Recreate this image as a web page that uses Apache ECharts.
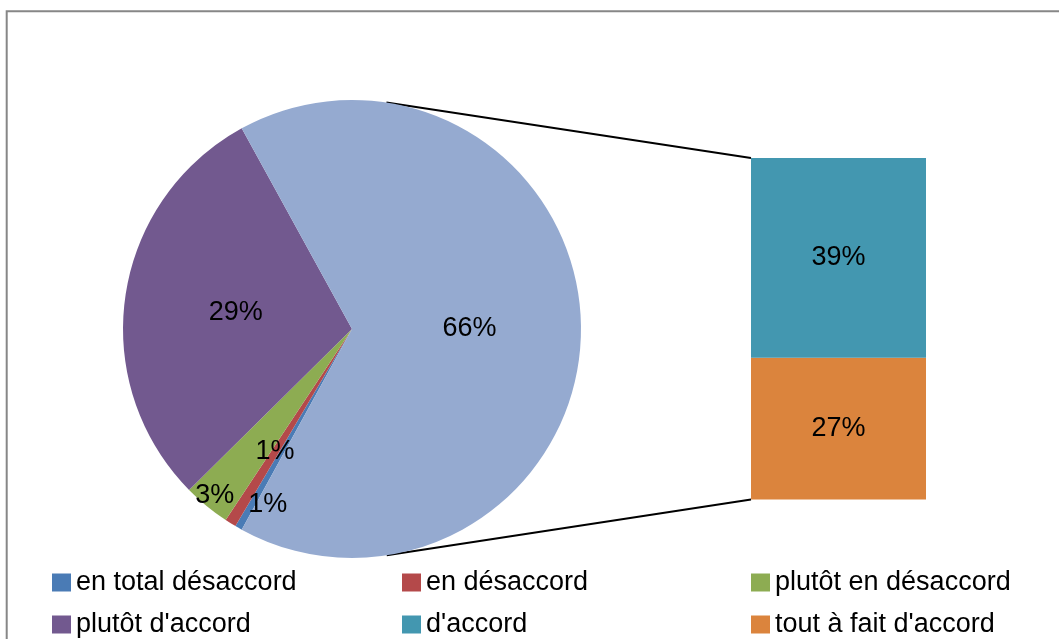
<!DOCTYPE html>
<html>
<head>
<meta charset="utf-8">
<script src="https://cdn.jsdelivr.net/npm/echarts@6/dist/echarts.min.js"></script>
<style>
  html, body { margin: 0; padding: 0; background: #ffffff; }
  #chart { width: 1059px; height: 639px; }
</style>
</head>
<body>
<div id="chart"></div>
<script>
// Answer categories and their shares (percent of respondents)
const categories = [
  'en total désaccord',
  'en désaccord',
  'plutôt en désaccord',
  "plutôt d'accord",
  "d'accord",
  "tout à fait d'accord"
];
const shares = [0.5, 0.8, 3.3, 29.4, 38.6, 27.4];
// The first four answers sit in the pie; the last two are grouped into one slice
// and broken down in the stacked bar on the right.
const pieCount = 4;

const palette = ['#4A7BB5', '#B4494A', '#8DAC52', '#72598F', '#4397B0', '#DB843D'];
const groupColor = '#95AAD0';
const FONT = "'Liberation Sans', Arial, sans-serif";
const LABEL_SIZE = 27;

// Layout of the two plots
const pieCenter = [352, 329];
const pieR = 229;
const barBox = { left: 751, top: 158, width: 175, height: 341.5 };

const groupValue = shares.slice(pieCount).reduce((a, b) => a + b, 0);
const total = shares.reduce((a, b) => a + b, 0);
// grouped slice is centred on the right-hand side (3 o'clock)
const startAngle = 360 - 180 * groupValue / total;

const pct = v => Math.round(v) + '%';

function pieData(showIdx) {
  const d = categories.slice(0, pieCount).map((n, i) => ({
    name: n, value: shares[i],
    itemStyle: { color: palette[i] },
    label: { show: showIdx.includes(i) }
  }));
  d.push({ name: 'accord', value: groupValue, itemStyle: { color: groupColor },
           label: { show: showIdx.includes(pieCount) } });
  return d;
}

const labelStyle = { position: 'inside', formatter: p => pct(p.value),
  color: '#000', fontSize: LABEL_SIZE, fontFamily: FONT };

// transparent ring used only to position labels of the thin slices
function labelRing(inner, idx, offset) {
  return {
    type: 'pie', center: pieCenter, radius: [pieR * inner, pieR],
    startAngle: startAngle, clockwise: true, silent: true, z: 3,
    data: pieData(idx).map(d => Object.assign({}, d, { itemStyle: { color: 'transparent' } })),
    label: Object.assign({}, labelStyle, offset ? { offset: offset } : {}),
    labelLine: { show: false }, emphasis: { disabled: true }
  };
}

// legend: three columns, two rows
const colLeft = [52, 402, 751];
const rowTop = [569, 611];
const legends = categories.map((name, i) => ({
  left: colLeft[i % 3], top: rowTop[Math.floor(i / 3)], padding: 0,
  data: [name],
  icon: 'rect', itemWidth: 19, itemHeight: 18,
  selectedMode: false,
  textStyle: { fontSize: 27, fontFamily: FONT, color: '#000' }
}));

const chart = echarts.init(document.getElementById('chart'), null, { renderer: 'canvas' });

// tangent point from an outside point onto the pie's circle
function tangent(px, py, side) {
  const dx = px - pieCenter[0], dy = py - pieCenter[1];
  const d = Math.hypot(dx, dy);
  const a = Math.atan2(dy, dx) + side * Math.acos(pieR / d);
  return [pieCenter[0] + pieR * Math.cos(a), pieCenter[1] + pieR * Math.sin(a)];
}

const barTop = barBox.top, barBottom = barBox.top + barBox.height, barLeft = barBox.left;
const t1 = tangent(barLeft, barTop, -1);
const t2 = tangent(barLeft, barBottom, 1);

const barLabel = { show: true, position: 'inside', formatter: p => pct(p.value),
  color: '#000', fontSize: LABEL_SIZE, fontFamily: FONT };

chart.setOption({
  animation: false,
  backgroundColor: '#ffffff',
  legend: legends,
  grid: { left: barBox.left, top: barBox.top, width: barBox.width, height: barBox.height, containLabel: false },
  xAxis: { type: 'category', data: [''], show: false },
  yAxis: { type: 'value', min: 0, max: groupValue, show: false },
  series: [
    {
      type: 'pie', center: pieCenter, radius: [0, pieR],
      startAngle: startAngle, clockwise: true, z: 2,
      data: pieData([3, pieCount]),
      itemStyle: { borderWidth: 0 },
      label: labelStyle, labelLine: { show: false },
      emphasis: { disabled: true }
    },
    labelRing(0.24, [1]),
    labelRing(0.74, [0], [16, 0]),
    labelRing(0.86, [2]),
    {
      type: 'bar', name: categories[5], stack: 'detail', barWidth: '100%',
      data: [shares[5]], itemStyle: { color: palette[5] },
      label: barLabel, emphasis: { disabled: true }
    },
    {
      type: 'bar', name: categories[4], stack: 'detail', barWidth: '100%',
      data: [shares[4]], itemStyle: { color: palette[4] },
      label: barLabel, emphasis: { disabled: true }
    }
  ],
  graphic: [
    { type: 'rect', shape: { x: 6.7, y: 11.2, width: 1200, height: 1000 },
      style: { fill: null, stroke: '#878787', lineWidth: 2 }, silent: true },
    { type: 'line', shape: { x1: t1[0], y1: t1[1], x2: barLeft, y2: barTop },
      style: { stroke: '#000', lineWidth: 2 }, silent: true },
    { type: 'line', shape: { x1: t2[0], y1: t2[1], x2: barLeft, y2: barBottom },
      style: { stroke: '#000', lineWidth: 2 }, silent: true }
  ]
});
</script>
</body>
</html>
